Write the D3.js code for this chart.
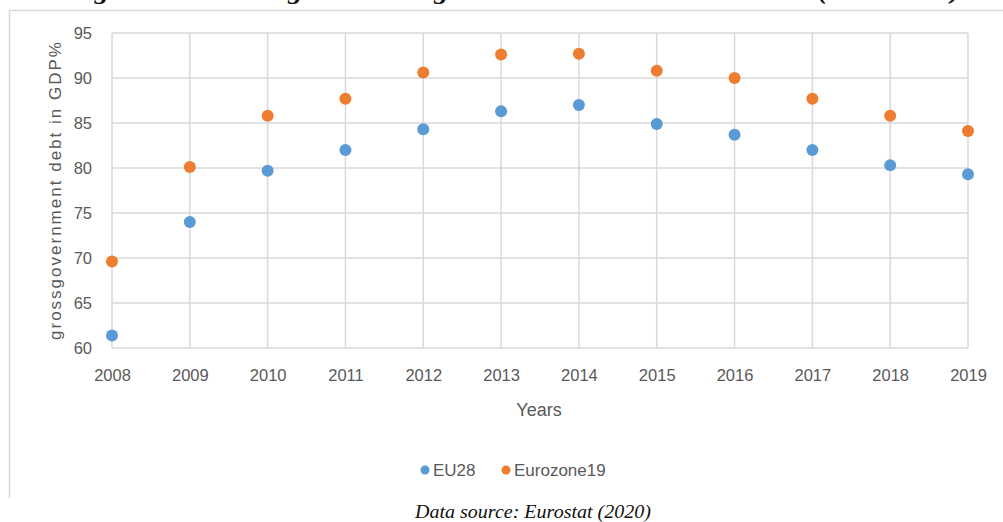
<!DOCTYPE html>
<html>
<head>
<meta charset="utf-8">
<script src="https://cdn.jsdelivr.net/npm/d3@7"></script>
<style>
  html, body { margin: 0; padding: 0; background: #fff; }
  svg { display: block; }
</style>
</head>
<body>
<svg id="chart" width="1003" height="522"></svg>
<script>
// Gross government debt, % of GDP
const years = [2008, 2009, 2010, 2011, 2012, 2013, 2014, 2015, 2016, 2017, 2018, 2019];
const eu28 = [61.4, 74.0, 79.7, 82.0, 84.3, 86.3, 87.0, 84.9, 83.7, 82.0, 80.3, 79.3];
const eurozone19 = [69.6, 80.1, 85.8, 87.7, 90.6, 92.6, 92.7, 90.8, 90.0, 87.7, 85.8, 84.1];
const yTicks = [60, 65, 70, 75, 80, 85, 90, 95];
const seriesNames = ["EU28", "Eurozone19"];
const seriesColors = ["#5B9BD5", "#ED7D31"];

const svg = d3.select("#chart");
const labelFont = "'Liberation Sans', Arial, sans-serif";
const grey = "#595959";

// Figure caption (top, running off the page edge)
svg.append("text")
  .attr("x", 68).attr("y", -1)
  .attr("textLength", 892).attr("lengthAdjust", "spacingAndGlyphs")
  .attr("font-family", "'Liberation Serif', serif")
  .attr("font-style", "italic").attr("font-weight", "bold")
  .attr("font-size", 24).attr("fill", "#111")
  .text("Figure 1: General government gross debt in EU Member States (2008-2019)");

// Chart frame
svg.append("path")
  .attr("d", "M9.5,498 V10.5 H1003")
  .attr("fill", "none").attr("stroke", "#d9d9d9").attr("stroke-width", 1.5);

const x = d3.scaleLinear().domain([2008, 2019]).range([112, 968]);
const y = d3.scaleLinear().domain([60, 95]).range([348, 33]);

// Grid
const grid = svg.append("g").attr("stroke", "#d9d9d9").attr("stroke-width", 1.5);
grid.selectAll(".h").data(yTicks).join("line")
  .attr("x1", x(2008)).attr("x2", x(2019))
  .attr("y1", d => y(d)).attr("y2", d => y(d));
grid.selectAll(".v").data(years).join("line")
  .attr("x1", d => x(d)).attr("x2", d => x(d))
  .attr("y1", y(60)).attr("y2", y(95));

// Axes
const yAxis = svg.append("g").attr("transform", `translate(${x(2008)},0)`)
  .call(d3.axisLeft(y).tickValues(yTicks).tickSize(0).tickPadding(20));
const xAxis = svg.append("g").attr("transform", `translate(0,${y(60)})`)
  .call(d3.axisBottom(x).tickValues(years).tickFormat(d3.format("d")).tickSize(0).tickPadding(21));
[yAxis, xAxis].forEach(a => {
  a.select(".domain").remove();
  a.selectAll("text").attr("font-family", labelFont).attr("font-size", 16.5).attr("fill", grey);
});

// Axis titles
svg.append("text")
  .attr("x", 539).attr("y", 416).attr("text-anchor", "middle")
  .attr("font-family", labelFont).attr("font-size", 18).attr("fill", grey)
  .text("Years");
svg.append("text")
  .attr("transform", "translate(61,191) rotate(-90)")
  .attr("text-anchor", "middle")
  .attr("textLength", 298).attr("lengthAdjust", "spacing")
  .attr("font-family", labelFont).attr("font-size", 17).attr("fill", grey)
  .text("grossgovernment  debt in GDP%");

// Points
const series = [eu28, eurozone19];
series.forEach((vals, i) => {
  svg.append("g").selectAll("circle")
    .data(years.map((yr, j) => ({ yr, v: vals[j] })))
    .join("circle")
    .attr("cx", d => x(d.yr)).attr("cy", d => y(d.v))
    .attr("r", 6).attr("fill", seriesColors[i]);
});

// Legend
const legendX = [425, 506];
seriesNames.forEach((name, i) => {
  svg.append("circle").attr("cx", legendX[i]).attr("cy", 470).attr("r", 4.5).attr("fill", seriesColors[i]);
  svg.append("text").attr("x", legendX[i] + 8).attr("y", 476)
    .attr("font-family", labelFont).attr("font-size", 17).attr("fill", grey)
    .text(name);
});

// Source note
svg.append("text")
  .attr("x", 533).attr("y", 518).attr("text-anchor", "middle")
  .attr("textLength", 236).attr("lengthAdjust", "spacingAndGlyphs")
  .attr("font-family", "'Liberation Serif', serif").attr("font-style", "italic")
  .attr("font-size", 19).attr("fill", "#111")
  .text("Data source: Eurostat (2020)");
</script>
</body>
</html>
